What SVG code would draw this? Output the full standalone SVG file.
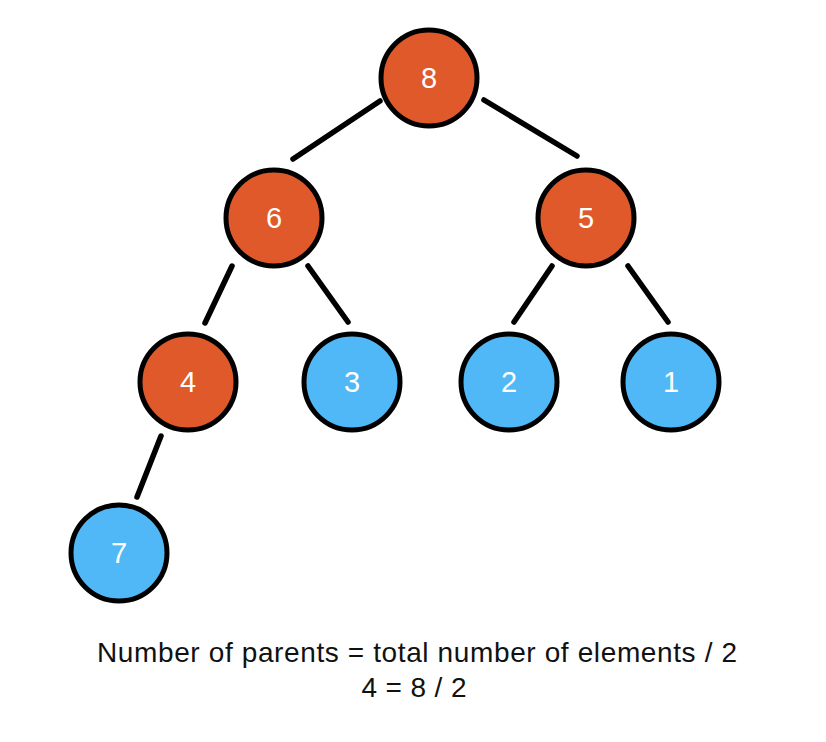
<svg xmlns="http://www.w3.org/2000/svg" width="826" height="742" viewBox="0 0 826 742">
<style>
.n{stroke:#000;stroke-width:5}
.o{fill:#E0592A}
.b{fill:#50B8F6}
.l{font-family:"Liberation Sans",Arial,sans-serif;font-size:29px;fill:#fff;text-anchor:middle}
.e{stroke:#000;stroke-width:5.5;stroke-linecap:round;fill:none}
.c{font-family:"Liberation Sans",Arial,sans-serif;font-size:28px;fill:#111;text-anchor:middle}
</style>
<rect width="826" height="742" fill="#fff"/>
<g id="connectors">
<line class="e" x1="380" y1="101" x2="293" y2="159"/>
<line class="e" x1="484" y1="100" x2="577" y2="156"/>
<line class="e" x1="232" y1="266" x2="205" y2="323"/>
<line class="e" x1="308" y1="266" x2="348" y2="322"/>
<line class="e" x1="552" y1="266" x2="514" y2="322"/>
<line class="e" x1="628" y1="266" x2="668" y2="322"/>
<line class="e" x1="161" y1="436" x2="137" y2="497"/>
</g>
<g id="n8"><circle class="n o" cx="429" cy="78" r="48"/><text class="l" x="429" y="88">8</text></g>
<g id="n6"><circle class="n o" cx="274" cy="218" r="48"/><text class="l" x="274" y="228">6</text></g>
<g id="n5"><circle class="n o" cx="586" cy="218" r="48"/><text class="l" x="586" y="228">5</text></g>
<g id="n4"><circle class="n o" cx="188" cy="382" r="48"/><text class="l" x="188" y="392">4</text></g>
<g id="n3"><circle class="n b" cx="352" cy="382" r="48"/><text class="l" x="352" y="392">3</text></g>
<g id="n2"><circle class="n b" cx="509" cy="382" r="48"/><text class="l" x="509" y="392">2</text></g>
<g id="n1"><circle class="n b" cx="671" cy="382" r="48"/><text class="l" x="671" y="392">1</text></g>
<g id="n7"><circle class="n b" cx="119" cy="553" r="48"/><text class="l" x="119" y="563">7</text></g>
<g id="caption">
<text class="c" x="417" y="662" textLength="640" lengthAdjust="spacing">Number of parents = total number of elements / 2</text>
<text class="c" x="414" y="697" textLength="105" lengthAdjust="spacing">4 = 8 / 2</text>
</g>
</svg>
